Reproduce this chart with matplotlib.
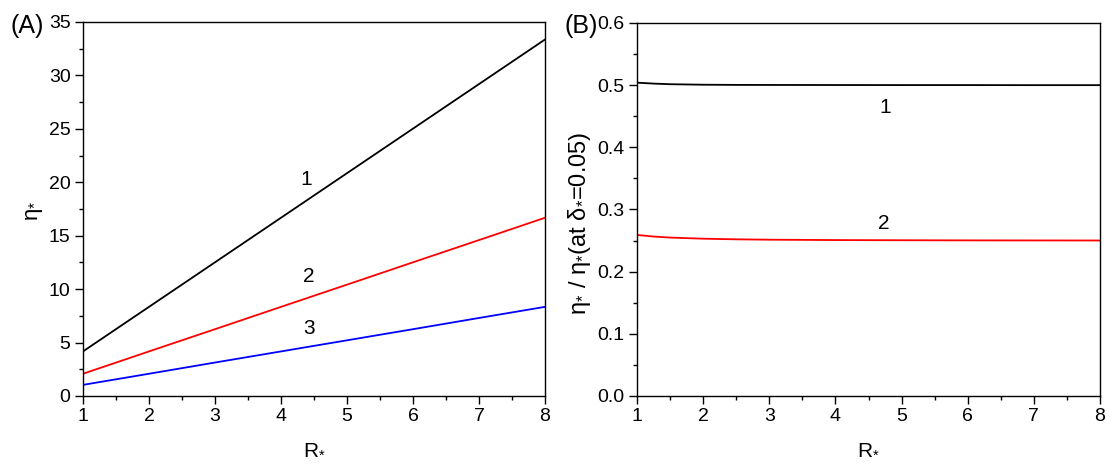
import numpy as np
import matplotlib
matplotlib.use("Agg")
import matplotlib.pyplot as plt
from matplotlib.ticker import MultipleLocator, FormatStrFormatter

plt.rcParams['font.family'] = ['Liberation Sans', 'DejaVu Sans']
plt.rcParams['mathtext.fontset'] = 'custom'
plt.rcParams['mathtext.rm'] = 'Liberation Sans'
plt.rcParams['mathtext.it'] = 'Liberation Sans:italic'

# Panel A data
R_a = [1, 2, 3, 4, 5, 6, 7, 8]
eta_1 = [4.17, 8.34, 12.51, 16.68, 20.85, 25.02, 29.19, 33.36]
eta_2 = [2.08, 4.17, 6.25, 8.34, 10.42, 12.51, 14.59, 16.68]
eta_3 = [1.04, 2.08, 3.13, 4.17, 5.21, 6.25, 7.30, 8.34]

# Panel B data
R_b = [1.0, 1.25, 1.5, 2.0, 2.5, 3.0, 4.0, 5.0, 6.0, 7.0, 8.0]
ratio_1 = [0.504, 0.5025, 0.5015, 0.5007, 0.5004, 0.5003, 0.5002, 0.5001, 0.5001, 0.5000, 0.5000]
ratio_2 = [0.259, 0.2565, 0.2548, 0.2530, 0.2520, 0.2514, 0.2508, 0.2505, 0.2503, 0.2502, 0.2501]

fig = plt.figure(figsize=(11.17, 4.69), dpi=100)
axA = fig.add_axes([0.0743, 0.1557, 0.4136, 0.7974])
axB = fig.add_axes([0.5703, 0.1557, 0.4145, 0.7953])

fs = 14

def style(ax):
    ax.tick_params(which='both', direction='out', top=False, right=False, labelsize=fs, pad=3)
    ax.tick_params(which='major', length=6, width=1)
    ax.tick_params(which='minor', length=3, width=1)
    for s in ax.spines.values():
        s.set_linewidth(1)
    ax.xaxis.set_major_locator(MultipleLocator(1))
    ax.xaxis.set_minor_locator(MultipleLocator(0.5))
    ax.set_xlim(1, 8)

axA.plot(R_a, eta_1, color='black', lw=1.3)
axA.plot(R_a, eta_2, color='red', lw=1.3)
axA.plot(R_a, eta_3, color='blue', lw=1.3)
style(axA)
axA.set_ylim(0, 35)
axA.yaxis.set_major_locator(MultipleLocator(5))
axA.yaxis.set_minor_locator(MultipleLocator(2.5))
axA.set_xlabel(r'R$_{\mathregular{*}}$', fontsize=15, labelpad=10)
axA.set_ylabel(r'η$_{\mathregular{*}}$', fontsize=16, va='center')
axA.yaxis.set_label_coords(-0.105, 0.495)
axA.text(4.3, 19.7, '1', fontsize=15)
axA.text(4.34, 10.7, '2', fontsize=15)
axA.text(4.34, 5.8, '3', fontsize=15)
fig.text(0.009, 0.93, '(A)', fontsize=18)

axB.plot(R_b, ratio_1, color='black', lw=1.3)
axB.plot(R_b, ratio_2, color='red', lw=1.3)
style(axB)
axB.set_ylim(0, 0.6)
axB.yaxis.set_major_locator(MultipleLocator(0.1))
axB.yaxis.set_minor_locator(MultipleLocator(0.05))
axB.yaxis.set_major_formatter(FormatStrFormatter('%.1f'))
axB.set_xlabel(r'R$_{\mathregular{*}}$', fontsize=15, labelpad=10)
axB.set_ylabel(r'η$_{\mathregular{*}}$ / η$_{\mathregular{*}}$(at δ$_{\mathregular{*}}$=0.05)', fontsize=17, va='center')
axB.yaxis.set_label_coords(-0.124, 0.464)
axB.text(4.66, 0.455, '1', fontsize=15)
axB.text(4.64, 0.268, '2', fontsize=15)
fig.text(0.505, 0.93, '(B)', fontsize=18)

fig.savefig('out.png', dpi=100)
